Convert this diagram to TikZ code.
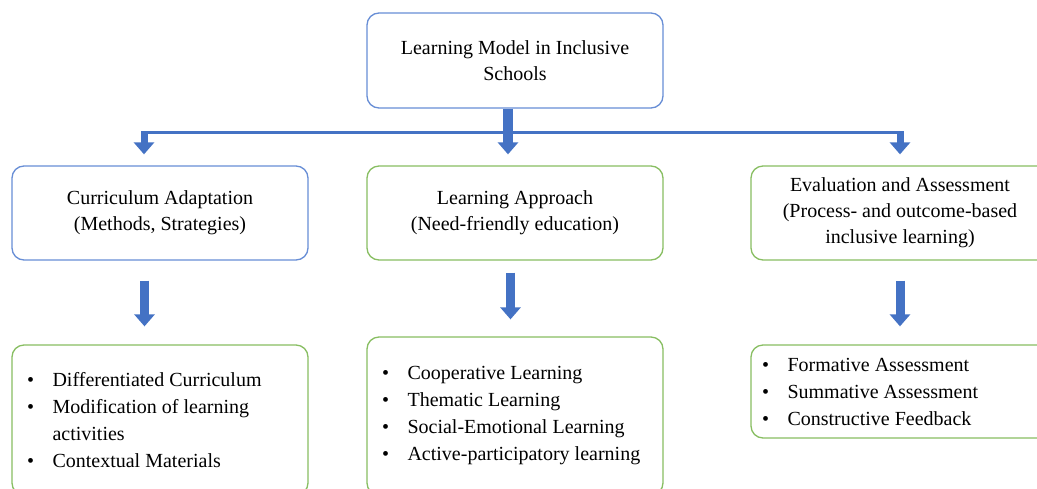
\documentclass[tikz,border=0pt]{standalone}
\usepackage{fontspec}
\setmainfont{Liberation Serif}
\usepackage{tikz}
\usetikzlibrary{arrows.meta}
\usetikzlibrary{positioning}

\definecolor{boxblue}{RGB}{104,142,214}
\definecolor{boxgreen}{RGB}{136,190,98}
\definecolor{arrowblue}{RGB}{68,114,196}

\newcommand{\itm}[1]{\makebox[25.5pt][l]{\textbullet}#1}

\tikzset{
	box/.style={rectangle, rounded corners=12pt, line width=1.3pt, minimum width=296pt, align=center, font=\fontsize{20}{26}\selectfont},
	bluebox/.style={box, draw=boxblue},
	greenbox/.style={box, draw=boxgreen},
	blist/.style={align=left, inner sep=0pt, font=\fontsize{20}{27}\selectfont},
	downarrow/.style={color=arrowblue, line width=#1, -{Triangle[width=20pt,length=12pt]}},
	downarrow/.default=9pt
}

\begin{document}
\begin{tikzpicture}[x=1pt, y=-1pt]
\path[use as bounding box, fill=white] (0,0) rectangle (1037,488);
\clip (0,0) rectangle (1037,488);

\node[bluebox, minimum height=95pt] (model) at (515,60.5) {Learning Model in Inclusive\\Schools};
\node[bluebox, minimum height=94pt] (curr) at (160,213) {Curriculum Adaptation\\(Methods, Strategies)};
\node[greenbox, minimum height=94pt] (appr) at (515,213) {Learning Approach\\(Need-friendly education)};
\node[greenbox, minimum height=94pt, minimum width=298pt] (eval) at (900,213) {Evaluation and Assessment\\(Process- and outcome-based\\inclusive learning)};

\node[greenbox, minimum height=150pt] (currlist) at (160,420) {};
\node[greenbox, minimum height=158pt] (apprlist) at (515,416) {};
\node[greenbox, minimum height=93pt, minimum width=298pt] (evallist) at (900,391.5) {};

\node[blist, anchor=west, right=15.5pt of currlist.west] (currtext) {\itm{Differentiated Curriculum}\\\itm{Modification of learning}\\\hspace*{25.5pt}activities\\\itm{Contextual Materials}};
\node[blist, anchor=west, right=15.5pt of apprlist.west] (apprtext) {\itm{Cooperative Learning}\\\itm{Thematic Learning}\\\itm{Social-Emotional Learning}\\\itm{Active-participatory learning}};
\node[blist, anchor=west, right=11.5pt of evallist.west] (evaltext) {\itm{Formative Assessment}\\\itm{Summative Assessment}\\\itm{Constructive Feedback}};

\coordinate (busL) at (144,132);
\coordinate (busR) at (900,132);
\draw[arrowblue, line width=3pt] ([xshift=-3pt]busL) -- ([xshift=3pt]busR);

\path[downarrow=10pt]
([xshift=-7pt]model.south) edge ([xshift=-7pt,yshift=11pt]appr.north)
;
\path[downarrow=7pt]
([yshift=1pt]busL) edge ([xshift=-16pt,yshift=11pt]curr.north)
([yshift=1pt]busR) edge ([yshift=11pt]eval.north)
;
\path[downarrow]
([xshift=-15.5pt,yshift=-20pt]curr.south) edge ([xshift=-15.5pt,yshift=18pt]currlist.north)
([xshift=-4.5pt,yshift=-12pt]appr.south) edge ([xshift=-4.5pt,yshift=17pt]apprlist.north)
([yshift=-20pt]eval.south) edge ([yshift=18pt]evallist.north)
;
\end{tikzpicture}
\end{document}
